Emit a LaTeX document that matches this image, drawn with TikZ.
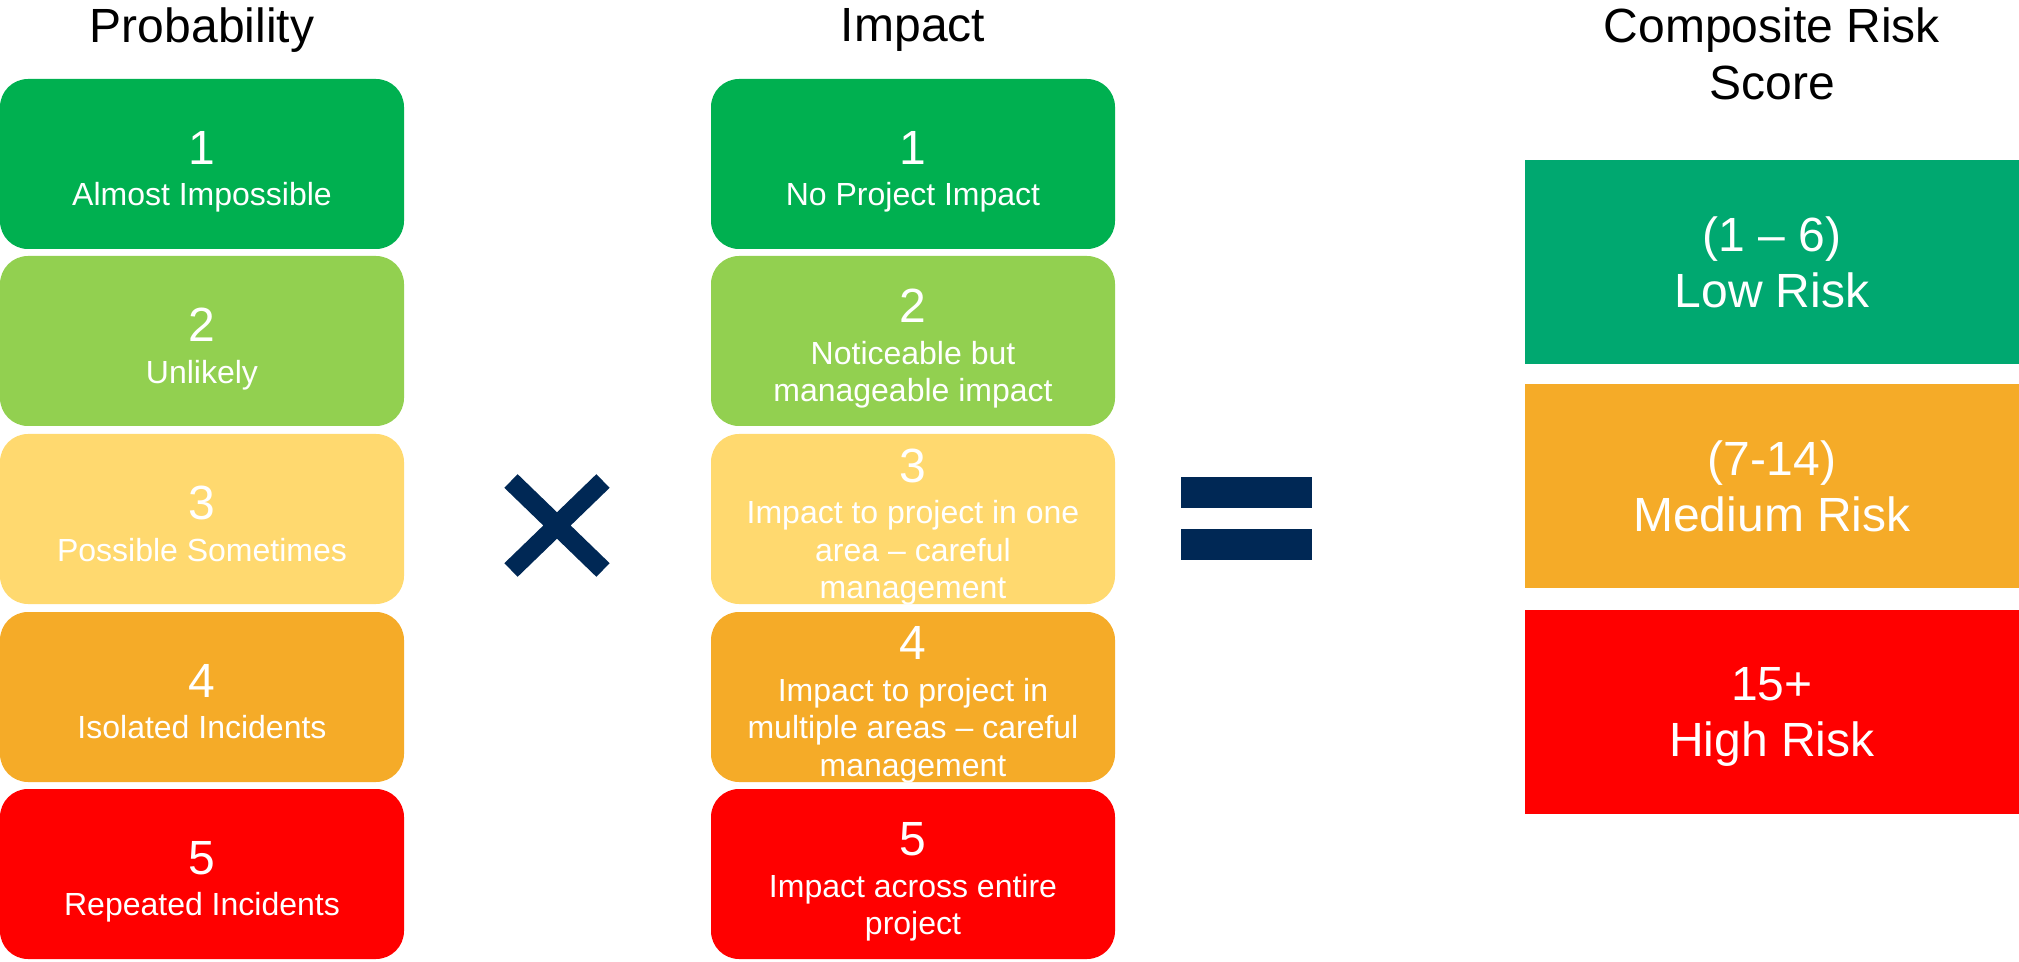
\documentclass[tikz,border=0pt]{standalone}
\usepackage{fontspec}
\setmainfont{Liberation Sans}
\definecolor{lvlA}{HTML}{00B050}
\definecolor{lvlB}{HTML}{92D050}
\definecolor{lvlC}{HTML}{FFD96F}
\definecolor{lvlD}{HTML}{F5AB28}
\definecolor{lvlE}{HTML}{FF0000}
\definecolor{lowrisk}{HTML}{00A870}
\definecolor{navy}{HTML}{002855}
\newcommand{\lvlnum}[1]{{\fontsize{24}{28.5}\selectfont #1}}

\begin{document}
\begin{tikzpicture}[x=0.5pt,y=-0.5pt,
%    every node/.style={draw},
    lvl/.style={rounded corners=14pt,minimum width=202pt,minimum height=85pt,inner sep=0pt},
    lvltxt/.style={text=white,align=center,font=\fontsize{16}{18.75}\selectfont,
      text depth=0pt,yshift=-2.3pt},
    score/.style={minimum width=247pt,minimum height=102pt,inner sep=0pt,text depth=0pt,
      text=white,align=center,font=\fontsize{24}{28.3}\selectfont},
    head/.style={align=center,font=\fontsize{24}{28.5}\selectfont}]

    \useasboundingbox (0,0) rectangle (2019,962);

    % headings
    \node[head] (hprob) at (202,30) {Probability};
    \node[head] (himp) at (913,30) {Impact};
    \node[head] (hscore) at (1772,54) {Composite Risk\\Score};

    % probability levels
    \begin{scope}[every node/.append style={lvl}]
      \node[fill=lvlA,label={[lvltxt]center:{\lvlnum{1}\\[1.9pt]Almost Impossible}}] (p1) at (202,164) {};
      \node[fill=lvlB,label={[lvltxt]center:{\lvlnum{2}\\[1.9pt]Unlikely}}] (p2) at (202,341) {};
      \node[fill=lvlC,label={[lvltxt]center:{\lvlnum{3}\\[1.9pt]Possible Sometimes}}] (p3) at (202,519) {};
      \node[fill=lvlD,label={[lvltxt]center:{\lvlnum{4}\\[1.9pt]Isolated Incidents}}] (p4) at (202,697) {};
      \node[fill=lvlE,label={[lvltxt]center:{\lvlnum{5}\\[1.9pt]Repeated Incidents}}] (p5) at (202,874) {};
    \end{scope}

    % impact levels
    \begin{scope}[every node/.append style={lvl}]
      \node[fill=lvlA,label={[lvltxt]center:{\lvlnum{1}\\[1.9pt]No Project Impact}}] (i1) at (913,164) {};
      \node[fill=lvlB,label={[lvltxt]center:{\lvlnum{2}\\[1.9pt]Noticeable but\\manageable impact}}] (i2) at (913,341) {};
      \node[fill=lvlC,label={[lvltxt]center:{\lvlnum{3}\\[1.9pt]Impact to project in one\\area – careful\\management}}] (i3) at (913,519) {};
      \node[fill=lvlD,label={[lvltxt]center:{\lvlnum{4}\\[1.9pt]Impact to project in\\multiple areas – careful\\management}}] (i4) at (913,697) {};
      \node[fill=lvlE,label={[lvltxt]center:{\lvlnum{5}\\[1.9pt]Impact across entire\\project}}] (i5) at (913,874) {};
    \end{scope}

    % times and equals
    \draw[navy,line width=9.5pt] (511,481) -- (603,570) (511,570) -- (603,481);
    \fill[navy] (1181,477) rectangle (1312,508);
    \fill[navy] (1181,529) rectangle (1312,560);

    % composite score
    \node[score,fill=lowrisk] (low) at (1772,262) {(1 – 6)\\Low Risk};
    \node[score,fill=lvlD] (med) at (1772,486) {(7-14)\\Medium Risk};
    \node[score,fill=lvlE] (high) at (1772,712) {15+\\High Risk};
  \end{tikzpicture}
\end{document}
